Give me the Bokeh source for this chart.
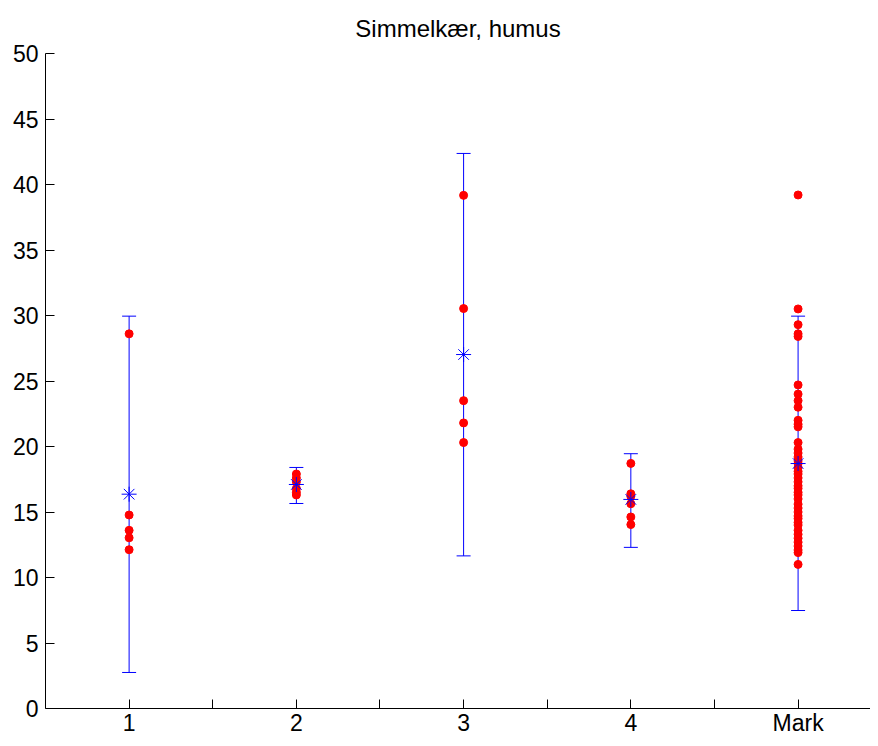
from bokeh.plotting import figure
from bokeh.models import Range1d, FixedTicker, Whisker, TeeHead, ColumnDataSource
from bokeh.embed import file_html
from bokeh.resources import INLINE

# ---- data ----
title_text = "Simmelkær, humus"
categories = ["1", "2", "3", "4", "Mark"]
positions = [1, 2, 3, 4, 5]
means = [16.36, 17.10, 27.02, 15.96, 18.70]
upper = [29.95, 18.40, 42.37, 19.45, 29.95]
lower = [2.75, 15.65, 11.65, 12.30, 7.48]

g1 = [28.6, 14.77, 13.6, 13.03, 12.12]
g2 = [17.9, 17.6, 17.3, 16.8, 16.5, 16.3]
g3 = [39.17, 30.53, 23.5, 21.8, 20.3]
g4 = [18.71, 16.39, 16.2, 15.63, 14.62, 14.04]
g5 = [39.2, 30.5, 29.3, 28.6, 28.4, 24.7, 24.0, 23.5, 23.0, 22.0, 21.7, 21.5,
      20.3, 19.8, 19.5, 19.2, 18.9, 18.7, 18.4, 18.1, 17.9, 17.6, 17.3, 17.0,
      16.8, 16.5, 16.3, 16.0, 15.6, 15.3, 15.0, 14.7, 14.5, 14.2, 14.0, 13.6,
      13.3, 13.0, 12.7, 12.4, 12.1, 11.9, 11.0]
groups = [g1, g2, g3, g4, g5]

y_ticks = [0, 5, 10, 15, 20, 25, 30, 35, 40, 45, 50]
x_ticks = [1, 1.5, 2, 2.5, 3, 3.5, 4, 4.5, 5]

FONT = "Liberation Sans"

p = figure(width=870, height=738, output_backend="svg", toolbar_location=None,
           x_range=Range1d(0.5, 5.433), y_range=Range1d(0, 50),
           min_border_left=45, min_border_right=0, min_border_top=0, min_border_bottom=28)
p.outline_line_color = None
p.background_fill_color = "white"
p.border_fill_color = "white"
p.xgrid.grid_line_color = None
p.ygrid.grid_line_color = None

p.title.text = title_text
p.title.align = "center"
p.title.offset = 9
p.title.standoff = 24
p.title.text_font = FONT
p.title.text_font_size = "24px"
p.title.text_font_style = "normal"
p.title.text_color = "black"

for ax in (p.xaxis[0], p.yaxis[0]):
    ax.major_label_text_font = FONT
    ax.major_label_text_font_size = "23px"
    ax.major_label_text_color = "black"
    ax.axis_line_color = "black"
    ax.major_tick_line_color = "black"
    ax.major_tick_in = 9
    ax.major_tick_out = 0
    ax.minor_tick_line_color = None
p.yaxis.major_label_standoff = 7
p.xaxis.major_label_standoff = 1

p.xaxis.ticker = FixedTicker(ticks=x_ticks)
overrides = {}
for t in x_ticks:
    overrides[t] = ""
for pos, c in zip(positions, categories):
    overrides[pos] = c
p.xaxis.major_label_overrides = overrides
p.yaxis.ticker = FixedTicker(ticks=y_ticks)

# error bars
src = ColumnDataSource(dict(x=positions, lo=lower, hi=upper, m=means))
w = Whisker(source=src, base="x", lower="lo", upper="hi", dimension="height",
            line_color="blue", line_width=1, level="underlay",
            upper_head=TeeHead(size=14, line_color="blue", line_width=1),
            lower_head=TeeHead(size=14, line_color="blue", line_width=1))
p.add_layout(w)

# data points
xs, ys = [], []
for pos, g in zip(positions, groups):
    for v in g:
        xs.append(pos)
        ys.append(v)
p.scatter(xs, ys, marker="circle", size=8, fill_color="red", line_color="red")

# means
p.scatter("x", "m", source=src, marker="asterisk", size=15, line_color="blue", line_width=1)

open("out.html", "w").write(file_html(p, INLINE))
